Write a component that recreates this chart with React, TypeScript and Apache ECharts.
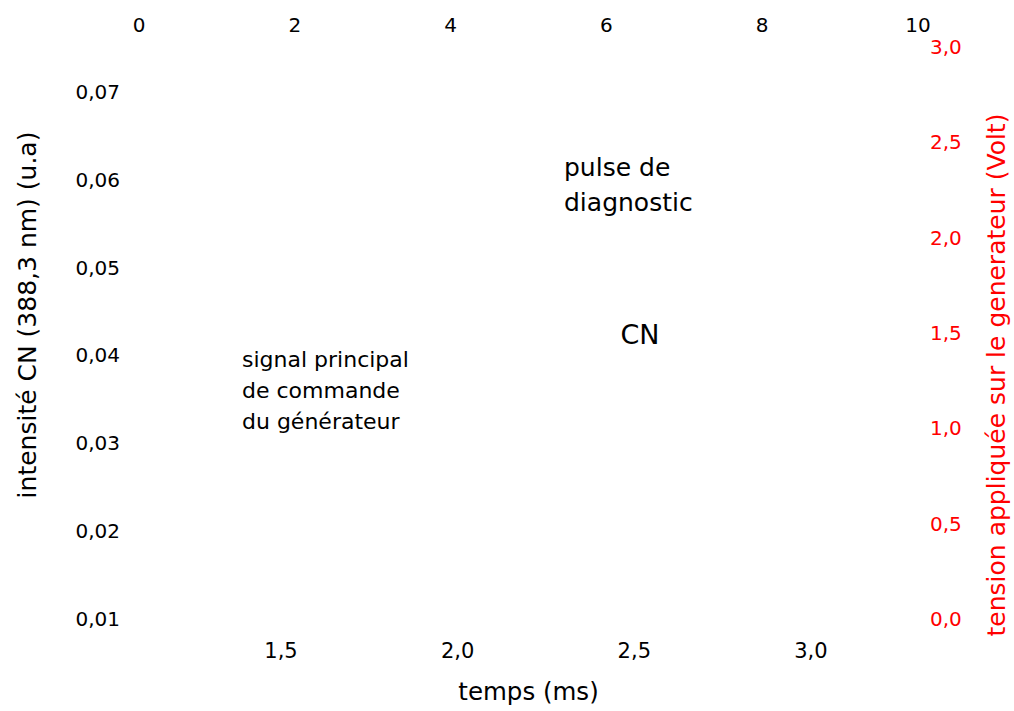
import React, { useEffect, useRef } from "react";
import * as echarts from "echarts";

// Axis ranges and tick labels
const topTicks = [0, 2, 4, 6, 8, 10];
const bottomTicks = [1.5, 2.0, 2.5, 3.0];
const leftTicks = [0.01, 0.02, 0.03, 0.04, 0.05, 0.06, 0.07];
const rightTicks = [0.0, 0.5, 1.0, 1.5, 2.0, 2.5, 3.0];

// Series data (the reference shows no visible traces)
const cnIntensity: number[][] = [];
const generatorVoltage: number[][] = [];

// Texts
const xTitle = "temps (ms)";
const yLeftTitle = "intensité CN (388,3 nm) (u.a)";
const yRightTitle = "tension appliquée sur le generateur (Volt)";
const noteDiag = "pulse de\ndiagnostic";
const noteSignal = "signal principal\nde commande\ndu générateur";
const noteCN = "CN";

const FONT = "DejaVu Sans";
const fmt = (d: number) => (v: number) => Number(v).toFixed(d).replace(".", ",");

export default function App() {
  const ref = useRef<HTMLDivElement>(null);
  useEffect(() => {
    if (!ref.current) return;
    const chart = echarts.init(ref.current, null, { renderer: "svg" });
    const hidden = {
      axisLine: { show: false },
      axisTick: { show: false },
      splitLine: { show: false },
    };
    chart.setOption({
      animation: false,
      backgroundColor: "#ffffff",
      grid: { left: 139, right: 96, top: 47, bottom: 92, containLabel: false },
      xAxis: [
        {
          type: "value",
          position: "bottom",
          min: 1.098,
          max: 3.303,
          ...hidden,
          axisLabel: {
            customValues: bottomTicks,
            formatter: fmt(1),
            color: "#000",
            fontFamily: FONT,
            fontSize: 21,
            margin: 21,
          },
          name: xTitle,
          nameLocation: "middle",
          nameGap: 60,
          nameTextStyle: { color: "#000", fontFamily: FONT, fontSize: 24.5 },
        },
        {
          type: "value",
          position: "top",
          min: 0,
          max: 10,
          interval: 2,
          ...hidden,
          axisLabel: {
            customValues: topTicks,
            formatter: (v: number) => String(v),
            color: "#000",
            fontFamily: FONT,
            fontSize: 20,
            margin: 12,
          },
        },
      ],
      yAxis: [
        {
          type: "value",
          position: "left",
          min: 0.01,
          max: 0.0751,
          ...hidden,
          axisLabel: {
            customValues: leftTicks,
            formatter: fmt(2),
            color: "#000",
            fontFamily: FONT,
            fontSize: 20,
            margin: 19,
          },
        },
        {
          type: "value",
          position: "right",
          min: 0,
          max: 3,
          interval: 0.5,
          ...hidden,
          axisLabel: {
            customValues: rightTicks,
            formatter: fmt(1),
            color: "#ff0000",
            fontFamily: FONT,
            fontSize: 20,
            margin: 12,
          },
        },
      ],
      series: [
        {
          type: "line",
          xAxisIndex: 0,
          yAxisIndex: 0,
          data: cnIntensity,
          showSymbol: false,
          lineStyle: { color: "#000" },
        },
        {
          type: "line",
          xAxisIndex: 0,
          yAxisIndex: 1,
          data: generatorVoltage,
          showSymbol: false,
          lineStyle: { color: "#ff0000" },
        },
      ],
      graphic: [
        {
          type: "text",
          x: 27,
          y: 315,
          rotation: Math.PI / 2,
          style: {
            text: yLeftTitle,
            fill: "#000",
            font: `25px "${FONT}"`,
            align: "center",
            verticalAlign: "middle",
          },
        },
        {
          type: "text",
          x: 996,
          y: 375,
          rotation: Math.PI / 2,
          style: {
            text: yRightTitle,
            fill: "#ff0000",
            font: `25px "${FONT}"`,
            align: "center",
            verticalAlign: "middle",
          },
        },
        {
          type: "text",
          x: 564,
          y: 150,
          style: {
            text: noteDiag,
            fill: "#000",
            font: `25px "${FONT}"`,
            lineHeight: 35,
            align: "left",
            verticalAlign: "top",
          },
        },
        {
          type: "text",
          x: 242,
          y: 344,
          style: {
            text: noteSignal,
            fill: "#000",
            font: `22px "${FONT}"`,
            lineHeight: 31,
            align: "left",
            verticalAlign: "top",
          },
        },
        {
          type: "text",
          x: 640,
          y: 334,
          style: {
            text: noteCN,
            fill: "#000",
            font: `27px "${FONT}"`,
            align: "center",
            verticalAlign: "middle",
          },
        },
      ],
    });
    return () => chart.dispose();
  }, []);
  return (
    <div
      ref={ref}
      style={{ position: "fixed", left: 0, top: 0, width: 1014, height: 711, background: "#fff" }}
    />
  );
}
